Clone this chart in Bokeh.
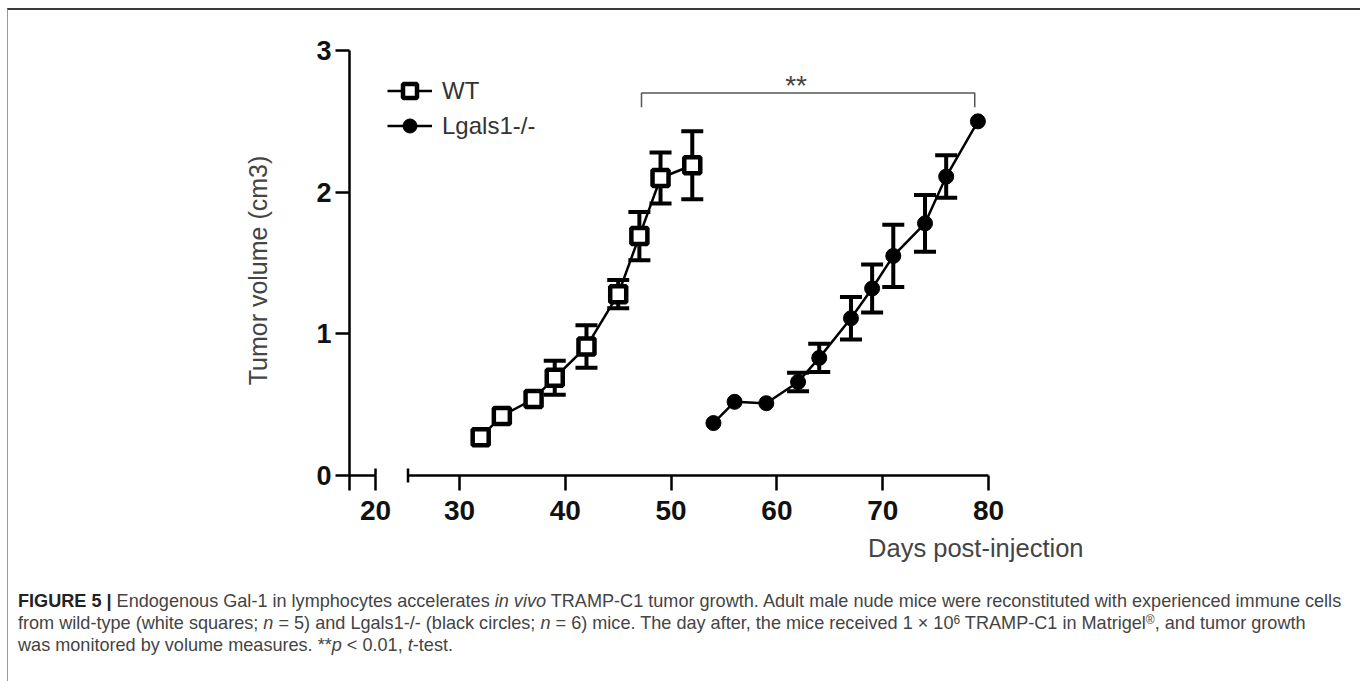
from bokeh.plotting import figure
from bokeh.models import (Range1d, FixedTicker, Whisker, ColumnDataSource,
                          Legend, LegendItem, Label, TeeHead, Div, Title)
from bokeh.layouts import column
from bokeh.embed import file_html
from bokeh.resources import INLINE

# ---------------- data ----------------
wt_days = [32, 34, 37, 39, 42, 45, 47, 49, 52]
wt_volume = [0.27, 0.42, 0.54, 0.69, 0.91, 1.28, 1.69, 2.10, 2.19]
wt_sem = [0.0, 0.0, 0.0, 0.12, 0.15, 0.10, 0.17, 0.18, 0.24]

ko_days = [54, 56, 59, 62, 64, 67, 69, 71, 74, 76, 79]
ko_volume = [0.37, 0.52, 0.51, 0.66, 0.83, 1.11, 1.32, 1.55, 1.78, 2.11, 2.50]
ko_sem = [0.0, 0.0, 0.0, 0.065, 0.10, 0.15, 0.17, 0.22, 0.20, 0.15, 0.0]

series_labels = ["WT", "Lgals1-/-"]
x_ticks = [30, 40, 50, 60, 70, 80]
y_ticks = [0, 1, 2, 3]
x_break_label = "20"
sig_days = [47.2, 78.7]
sig_text = "**"
x_title = "Days post-injection"
y_title = "Tumor volume (cm3)"

# broken x axis: display position of the "20" tick, start of the second segment
X_BREAK_POS = 22.06
X_SEG_START = 25.13
X_START, X_END = 19.60, 88.98
Y_START, Y_END = -0.106, 3.0

FONT = "Liberation Sans"

p = figure(width=1348, height=568, output_backend="svg", toolbar_location=None,
           x_range=Range1d(X_START, X_END), y_range=Range1d(Y_START, Y_END),
           x_axis_location="below", y_axis_location="left",
           min_border_left=341, min_border_right=273, min_border_top=40, min_border_bottom=88)
p.outline_line_color = None
p.grid.grid_line_color = None
p.background_fill_color = "white"
p.border_fill_color = "white"

# y axis
ya = p.yaxis[0]
ya.ticker = FixedTicker(ticks=y_ticks)
ya.axis_line_width = 2.5
ya.axis_line_color = "black"
ya.major_tick_line_width = 2.5
ya.major_tick_out = 14
ya.major_tick_in = 0
ya.minor_tick_line_color = None
ya.major_label_text_font = FONT
ya.major_label_text_font_size = "27px"
ya.major_label_text_font_style = "bold"
ya.major_label_text_color = "#111"
ya.major_label_standoff = 4
ya.axis_label = y_title
ya.axis_label_text_font = FONT
ya.axis_label_text_font_size = "25px"
ya.axis_label_text_font_style = "normal"
ya.axis_label_text_color = "#444"
ya.axis_label_standoff = 41

# x axis at frame bottom; ticks point inward up to y = 0, axis line drawn as two segments
xa = p.xaxis[0]
xa.ticker = FixedTicker(ticks=[X_BREAK_POS] + x_ticks)
xa.major_label_overrides = {X_BREAK_POS: x_break_label}
xa.axis_line_color = None
xa.major_tick_line_width = 2.5
xa.major_tick_line_color = "black"
xa.major_tick_out = 0
xa.major_tick_in = 15
xa.minor_tick_line_color = None
xa.major_label_text_font = FONT
xa.major_label_text_font_size = "28px"
xa.major_label_text_font_style = "bold"
xa.major_label_text_color = "#111"
xa.major_label_standoff = 10

p.add_layout(Title(text=x_title, align="right", text_font=FONT, text_font_size="25.5px",
                   text_font_style="normal", text_color="#444", standoff=18), "below")

p.segment(x0=[X_START, X_SEG_START], y0=[0, 0], x1=[X_BREAK_POS, x_ticks[-1]], y1=[0, 0],
          line_width=2.5, line_color="black")
p.segment(x0=[X_BREAK_POS, X_SEG_START], y0=[0, -0.05], x1=[X_BREAK_POS, X_SEG_START], y1=[0.05, 0.05],
          line_width=2.5, line_color="black")

# error bars
def whisker_source(xs, ys, es):
    xx = [x for x, e in zip(xs, es) if e > 0]
    up = [y + e for y, e in zip(ys, es) if e > 0]
    lo = [y - e for y, e in zip(ys, es) if e > 0]
    return ColumnDataSource(dict(x=xx, upper=up, lower=lo))

for xs, ys, es in [(wt_days, wt_volume, wt_sem), (ko_days, ko_volume, ko_sem)]:
    w = Whisker(base="x", upper="upper", lower="lower", source=whisker_source(xs, ys, es),
                line_width=4, line_color="black",
                upper_head=TeeHead(size=22, line_width=4, line_color="black"),
                lower_head=TeeHead(size=22, line_width=4, line_color="black"))
    p.add_layout(w)

wt_line = p.line(wt_days, wt_volume, line_width=2.5, line_color="black")
wt_pts = p.scatter(wt_days, wt_volume, marker="square", size=16, line_width=4.5,
                   line_color="black", fill_color="white")
ko_line = p.line(ko_days, ko_volume, line_width=2.5, line_color="black")
ko_pts = p.scatter(ko_days, ko_volume, marker="circle", size=15, line_width=1,
                   line_color="black", fill_color="black")

legend = Legend(items=[LegendItem(label=series_labels[0], renderers=[wt_line, wt_pts]),
                       LegendItem(label=series_labels[1], renderers=[ko_line, ko_pts])],
                location=(38, 347), glyph_width=45, glyph_height=35, spacing=0,
                padding=0, margin=0, label_standoff=10, border_line_color=None,
                background_fill_alpha=0, label_text_font=FONT, label_text_font_size="24px",
                label_text_color="#333", label_height=35)
p.add_layout(legend)

# significance bracket
sig_top, sig_drop = 2.70, 0.10
p.line([sig_days[0], sig_days[0], sig_days[1], sig_days[1]],
       [sig_top - sig_drop, sig_top, sig_top, sig_top - sig_drop],
       line_width=1.5, line_color="#555")
p.add_layout(Label(x=(sig_days[0] + sig_days[1]) / 2, y=2.755, x_offset=-12, text=sig_text,
                   text_align="center", text_baseline="alphabetic",
                   text_font=FONT, text_font_size="28px", text_color="#444"))

SUP = '<span style="font-size:12px; vertical-align:5px; line-height:0">'
caption_html = (
    '<div style="font-family: \'Liberation Sans\', Arial, sans-serif; font-size: 18.1px; '
    'line-height: 22px; color: #444; padding: 7px 0 0 5px; white-space: nowrap;">'
    '<b style="color:#222">FIGURE 5 |</b> Endogenous Gal-1 in lymphocytes accelerates <i>in vivo</i> '
    'TRAMP-C1 tumor growth. Adult male nude mice were reconstituted with experienced immune cells<br>'
    'from wild-type (white squares; <i>n</i> = 5) and Lgals1-/- (black circles; <i>n</i> = 6) mice. '
    'The day after, the mice received 1 &times; 10' + SUP + '6</span> TRAMP-C1 in '
    'Matrigel' + SUP + '&reg;</span>, and tumor growth<br>'
    'was monitored by volume measures. **<i>p</i> &lt; 0.01, <i>t</i>-test.'
    '</div>')
cap = Div(text=caption_html, width=1348, height=95)

layout = column(p, cap, styles={"margin-top": "8px", "margin-left": "7px",
                                "border-top": "2px solid #3a3a3a",
                                "border-left": "1px solid #999",
                                "border-right": "1px solid #999"})

open("out.html", "w").write(file_html(layout, INLINE))
